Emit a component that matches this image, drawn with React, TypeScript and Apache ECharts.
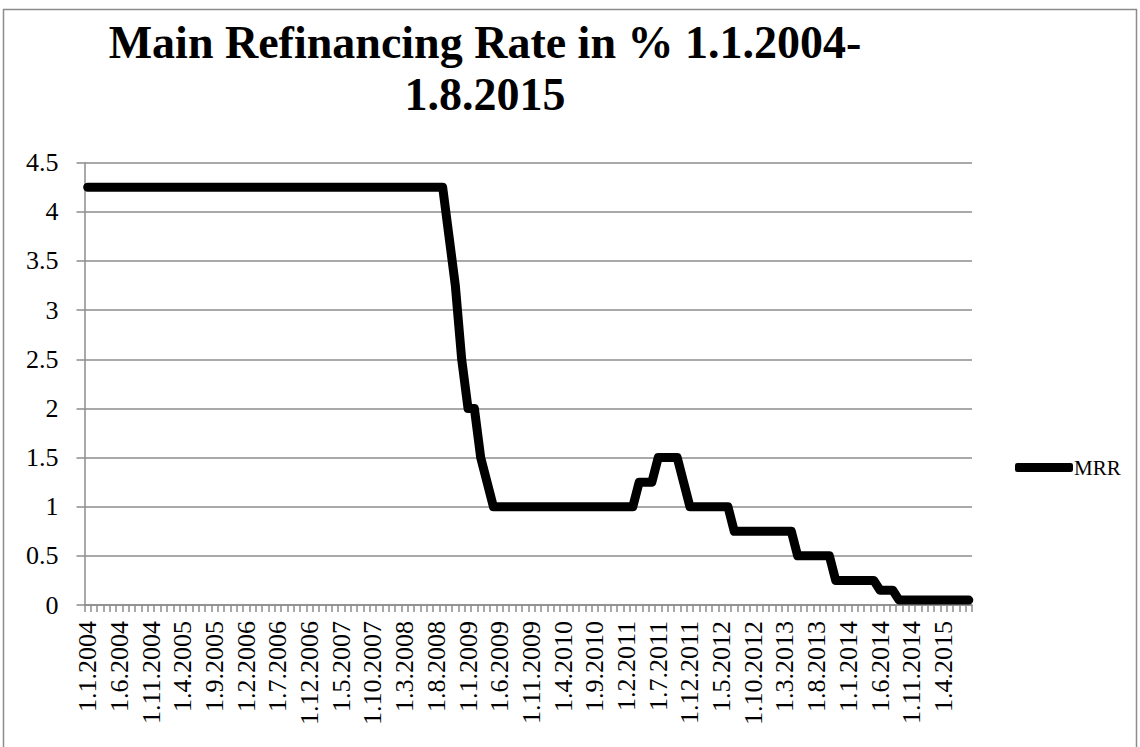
import React, { useEffect, useRef } from "react";
import * as echarts from "echarts";

// Monthly observation dates, 1.1.2004 through 1.8.2015
const firstYear = 2004;
const lastYear = 2015;
const lastMonth = 8;
const months: string[] = [];
for (let y = firstYear; y <= lastYear; y++) {
  for (let m = 1; m <= 12; m++) {
    if (y === lastYear && m > lastMonth) break;
    months.push(`1.${m}.${y}`);
  }
}

// Main refinancing rate (%), one value per month, listed year by year
const rate2004 = [4.25, 4.25, 4.25, 4.25, 4.25, 4.25, 4.25, 4.25, 4.25, 4.25, 4.25, 4.25];
const rate2005 = [4.25, 4.25, 4.25, 4.25, 4.25, 4.25, 4.25, 4.25, 4.25, 4.25, 4.25, 4.25];
const rate2006 = [4.25, 4.25, 4.25, 4.25, 4.25, 4.25, 4.25, 4.25, 4.25, 4.25, 4.25, 4.25];
const rate2007 = [4.25, 4.25, 4.25, 4.25, 4.25, 4.25, 4.25, 4.25, 4.25, 4.25, 4.25, 4.25];
const rate2008 = [4.25, 4.25, 4.25, 4.25, 4.25, 4.25, 4.25, 4.25, 4.25, 3.75, 3.25, 2.5];
const rate2009 = [2.0, 2.0, 1.5, 1.25, 1.0, 1.0, 1.0, 1.0, 1.0, 1.0, 1.0, 1.0];
const rate2010 = [1.0, 1.0, 1.0, 1.0, 1.0, 1.0, 1.0, 1.0, 1.0, 1.0, 1.0, 1.0];
const rate2011 = [1.0, 1.0, 1.0, 1.25, 1.25, 1.25, 1.5, 1.5, 1.5, 1.5, 1.25, 1.0];
const rate2012 = [1.0, 1.0, 1.0, 1.0, 1.0, 1.0, 0.75, 0.75, 0.75, 0.75, 0.75, 0.75];
const rate2013 = [0.75, 0.75, 0.75, 0.75, 0.5, 0.5, 0.5, 0.5, 0.5, 0.5, 0.25, 0.25];
const rate2014 = [0.25, 0.25, 0.25, 0.25, 0.25, 0.15, 0.15, 0.15, 0.05, 0.05, 0.05, 0.05];
const rate2015 = [0.05, 0.05, 0.05, 0.05, 0.05, 0.05, 0.05, 0.05];

const mrr = [
  ...rate2004, ...rate2005, ...rate2006, ...rate2007, ...rate2008, ...rate2009,
  ...rate2010, ...rate2011, ...rate2012, ...rate2013, ...rate2014, ...rate2015,
];

const seriesName = "MRR";
const titleText = "Main Refinancing Rate in % 1.1.2004-\n1.8.2015";

const serif = "'Liberation Serif', 'DejaVu Serif', serif";
const gray = "#8c8c8c";

export default function App() {
  const ref = useRef<HTMLDivElement>(null);

  useEffect(() => {
    if (!ref.current) return;
    const chart = echarts.init(ref.current, undefined, { renderer: "svg" });
    chart.setOption({
      animation: false,
      backgroundColor: "#ffffff",
      grid: { left: 84.5, right: 168, top: 162.7, bottom: 142, containLabel: false },
      graphic: [
        {
          type: "rect",
          shape: { x: 3.5, y: 9.5, width: 1133, height: 800 },
          style: { fill: "none", stroke: gray, lineWidth: 1.5 },
          silent: true,
        },
        {
          type: "text",
          x: 485,
          y: 16,
          style: {
            text: titleText,
            fontFamily: serif,
            fontWeight: "bold",
            fontSize: 46,
            lineHeight: 52,
            fill: "#000",
            textAlign: "center",
          },
        },
      ],
      legend: {
        show: true,
        data: [{ name: seriesName, icon: "roundRect" }],
        left: 1010,
        top: 452,
        itemWidth: 58,
        itemHeight: 9,
        itemGap: 0,
        textStyle: { fontFamily: serif, fontSize: 21, color: "#000", padding: [0, 0, 0, -4] },
      },
      xAxis: {
        type: "category",
        data: months,
        boundaryGap: true,
        axisLine: { lineStyle: { color: gray, width: 1.5 } },
        axisTick: { show: true, interval: 0, length: 7, lineStyle: { color: gray, width: 1.5 } },
        axisLabel: {
          interval: 4,
          rotate: 90,
          margin: 16,
          fontFamily: serif,
          fontSize: 26,
          color: "#000",
        },
        splitLine: { show: false },
      },
      yAxis: {
        type: "value",
        min: 0,
        max: 4.5,
        interval: 0.5,
        axisLine: { show: true, lineStyle: { color: gray, width: 1.5 } },
        axisTick: { show: true, length: 8, lineStyle: { color: gray, width: 1.5 } },
        axisLabel: { margin: 26, fontFamily: serif, fontSize: 26, color: "#000" },
        splitLine: { show: true, lineStyle: { color: gray, width: 1.5 } },
      },
      series: [
        {
          name: seriesName,
          type: "line",
          data: mrr,
          showSymbol: false,
          symbol: "none",
          color: "#000",
          lineStyle: { color: "#000", width: 9, cap: "round", join: "round" },
        },
      ],
    });
    return () => chart.dispose();
  }, []);

  return (
    <div
      ref={ref}
      style={{ position: "fixed", left: 0, top: 0, width: 1140, height: 747, background: "#fff" }}
    />
  );
}
